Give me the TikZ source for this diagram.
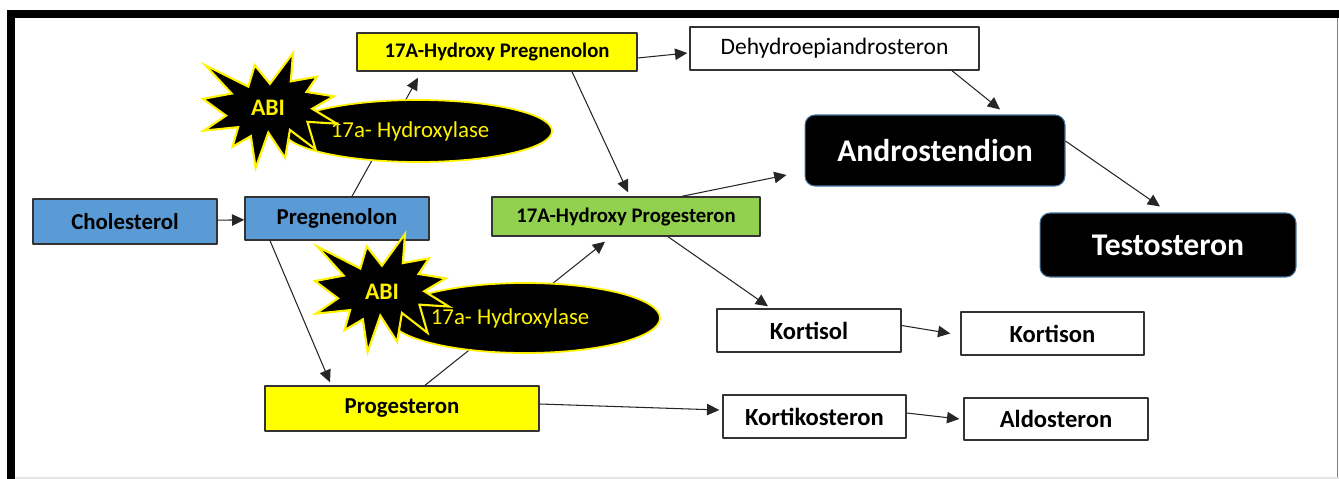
\documentclass[tikz,border=0pt]{standalone}
\usepackage{fontspec}
\setmainfont{Carlito}
\usepackage{tikz}
\usetikzlibrary{arrows.meta,shapes.geometric}

\definecolor{boxblue}{HTML}{5B9BD5}
\definecolor{boxgreen}{HTML}{92D050}
\definecolor{boxyellow}{HTML}{FFFF00}
\definecolor{edgeblue}{HTML}{41719C}

\begin{document}
\begin{tikzpicture}[
  x=0.02cm, y=-0.02cm,
  >={Triangle[length=7pt,width=6.5pt]},
  line join=round,
  every node/.style={inner sep=0pt, align=center},
  stepbox/.style={draw=black!80, line width=0.8pt, font=\bfseries\fontsize{13}{15}\selectfont},
  darkbox/.style={draw=edgeblue, line width=0.6pt, fill=black, text=white,
    rounded corners=0.2cm, font=\bfseries\fontsize{18}{21}\selectfont},
  enzyme/.style={ellipse, draw=yellow, line width=1pt, fill=black, text=yellow,
    font=\fontsize{13}{15}\selectfont},
  seal/.style={draw=yellow, line width=1.2pt, fill=black, line join=miter},
  blocker/.style={text=yellow, font=\bfseries\fontsize{13.5}{16}\selectfont},
  flow/.style={->, line width=0.6pt, black!85}
]
  \useasboundingbox (0,0) rectangle (1339,479);

  % Frame (thick top and left edge)
  \fill (7,10) rectangle (1339,18);
  \fill (7,10) rectangle (15,479);
  \draw[gray, line width=0.6pt] (1337.5,18) -- (1337.5,479);
  \draw[black!10, line width=0.6pt] (15,478) -- (1339,478);

  % Steps of the pathway
  \node[stepbox, fill=boxblue, minimum width=3.68cm, minimum height=0.90cm] (chol) at (125,221.5) {Cholesterol};
  \node[stepbox, fill=boxblue, minimum width=3.68cm, minimum height=0.86cm] (preg) at (337,218.5) {Pregnenolon};
  \node[stepbox, fill=boxyellow, minimum width=5.60cm, minimum height=0.76cm,
        font=\bfseries\fontsize{11.8}{14}\selectfont] (hpreg) at (497,52) {17A-Hydroxy Pregnenolon};
  \node[stepbox, fill=white, minimum width=5.78cm, minimum height=0.86cm,
        font=\fontsize{13.4}{16}\selectfont] (dhea) at (834.5,48.5) {Dehydroepiandrosteron};
  \node[stepbox, fill=boxgreen, minimum width=5.36cm, minimum height=0.78cm,
        font=\bfseries\fontsize{11.8}{14}\selectfont] (hprog) at (626,216.5) {17A-Hydroxy Progesteron};
  \node[stepbox, fill=boxyellow, minimum width=5.48cm, minimum height=0.90cm] (prog) at (402,408.5) {Progesteron};
  \node[darkbox, minimum width=5.20cm, minimum height=1.42cm] (andro) at (935,150.5) {Androstendion};
  \node[darkbox, minimum width=5.12cm, minimum height=1.28cm] (testo) at (1168,245) {Testosteron};
  \node[stepbox, fill=white, minimum width=3.68cm, minimum height=0.86cm,
        font=\bfseries\fontsize{14}{16}\selectfont] (kortisol) at (809,330.5) {Kortisol};
  \node[stepbox, fill=white, minimum width=3.66cm, minimum height=0.86cm,
        font=\bfseries\fontsize{14}{16}\selectfont] (kortison) at (1052.5,333.5) {Kortison};
  \node[stepbox, fill=white, minimum width=3.66cm, minimum height=0.86cm,
        font=\bfseries\fontsize{14}{16}\selectfont] (kortiko) at (814.5,416.5) {Kortikosteron};
  \node[stepbox, fill=white, minimum width=3.68cm, minimum height=0.84cm,
        font=\bfseries\fontsize{14}{16}\selectfont] (aldo) at (1056,419) {Aldosteron};

  % Conversions
  \draw[flow] (chol) -- (preg);
  \draw[flow] ([xshift=0.3cm]preg.north) -- ([xshift=-1.58cm,yshift=-0.12cm]hpreg.south);
  \draw[flow] ([yshift=-0.12cm]hpreg.east) -- ([xshift=-0.04cm,yshift=-0.09cm]dhea.west);
  \draw[flow] ([xshift=1.5cm]hpreg.south) -- ([xshift=0.04cm,yshift=0.08cm]hprog.north);
  \draw[flow] ([xshift=2.35cm]dhea.south) -- ([xshift=1.3cm,yshift=0.1cm]andro.north);
  \draw[flow] ([xshift=1.12cm]hprog.north) -- ([xshift=-0.36cm,yshift=-0.49cm]andro.west);
  \draw[flow] ([yshift=0.19cm]andro.east) -- ([xshift=-0.16cm,yshift=0.12cm]testo.north);
  \draw[flow] ([xshift=-1.34cm]preg.south) -- ([xshift=-1.44cm,yshift=0.06cm]prog.north);
  \draw[flow] ([xshift=0.46cm]prog.north) -- ([xshift=-0.42cm,yshift=-0.1cm]hprog.south);
  \draw[flow] ([xshift=0.84cm]hprog.south) -- ([xshift=-0.82cm,yshift=0.04cm]kortisol.north);
  \draw[flow] ([yshift=0.1cm]kortisol.east) -- ([xshift=-0.2cm]kortison.west);
  \draw[flow] ([yshift=0.09cm]prog.east) -- ([xshift=-0.06cm,yshift=0.13cm]kortiko.west);
  \draw[flow] ([yshift=0.07cm]kortiko.east) -- ([xshift=-0.08cm]aldo.west);

  % Enzyme, drawn over the arrows
  \node[enzyme, minimum width=5.36cm, minimum height=1.24cm] (hydA) at (418,131) {17a- Hydroxylase\hspace*{9pt}};
  \node[enzyme, minimum width=5.40cm, minimum height=1.40cm] (hydB) at (525,318) {17a- Hydroxylase\hspace*{17pt}};

  % Explosion bursts of the blocker
  \foreach \sx/\sy/\ys in {203/53/0.532, 315/234/0.546}{
    \begin{scope}[shift={(\sx,\sy)}, xscale=0.62, yscale=\ys]
      \filldraw[seal] (108.0,58.0) -- (145.2,0) -- (141.6,53.3) -- (183.8,44.6)
        -- (167.0,73.2) -- (211.0,81.4) -- (176.1,104.8) -- (216.0,132.9)
        -- (168.4,129.4) -- (181.5,181.0) -- (140.2,144.6) -- (132.5,197.4)
        -- (105.3,149.4) -- (84.9,216.0) -- (77.2,156.3) -- (47.6,176.2)
        -- (56.7,139.4) -- (1.4,145.9) -- (37.2,117.8) -- (0,86.2)
        -- (46.3,76.2) -- (3.7,23.0) -- (73.1,63.2) -- (83.5,23.0) -- cycle;
    \end{scope}
  }
  \node[blocker] (abiA) at (268,108) {ABI};
  \node[blocker] (abiB) at (382,292) {ABI};
\end{tikzpicture}
\end{document}
